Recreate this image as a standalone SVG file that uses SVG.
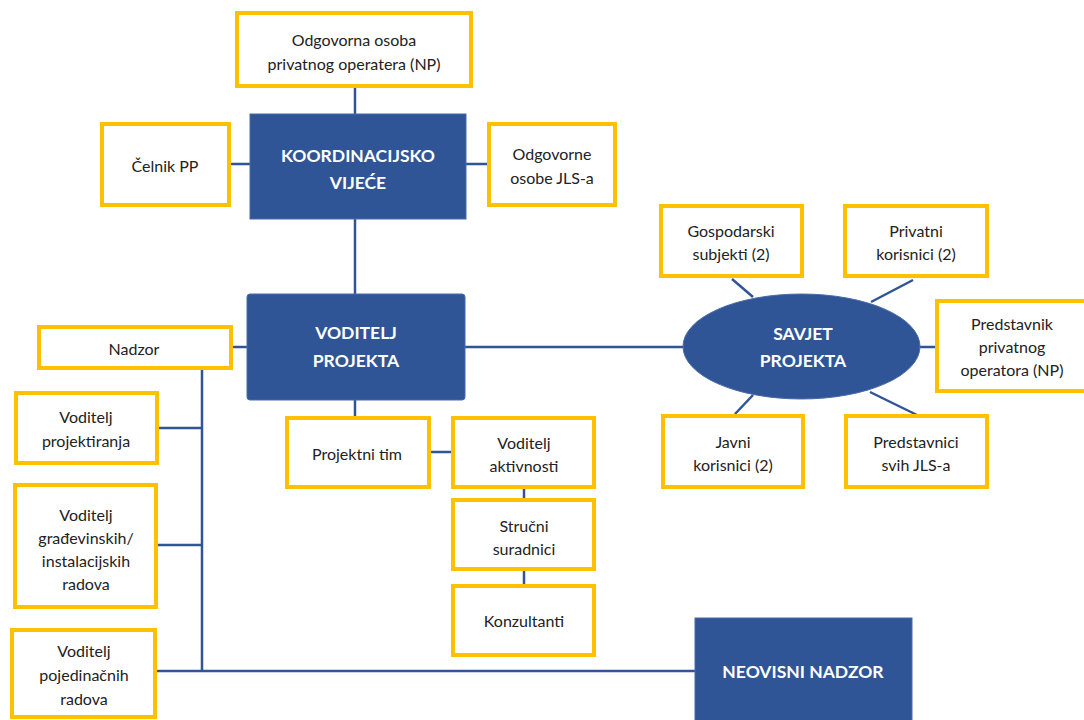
<svg xmlns="http://www.w3.org/2000/svg" width="1084" height="720" viewBox="0 0 1084 720">
<style>
.y{fill:#fff;stroke:#FFC000;stroke-width:4}
.b{fill:#2F5597;stroke:#4A6BA8;stroke-width:1}
.c{stroke:#2F5597;stroke-width:2.5;fill:none}
text{font-family:Lato,"Liberation Sans",sans-serif;text-anchor:middle;dominant-baseline:central}
.t{font-size:16px;fill:#222}
.w{font-size:17.5px;font-weight:bold;fill:#fff}
</style>
<rect width="1084" height="720" fill="#fff"/>
<g id="connectors">
<line class="c" x1="355" y1="87" x2="355" y2="114"/>
<line class="c" x1="229" y1="164" x2="250" y2="164"/>
<line class="c" x1="466" y1="164" x2="488" y2="164"/>
<line class="c" x1="355" y1="219" x2="355" y2="294"/>
<line class="c" x1="231" y1="347" x2="247" y2="347"/>
<line class="c" x1="465" y1="347" x2="683" y2="347"/>
<line class="c" x1="355" y1="400" x2="355" y2="417"/>
<line class="c" x1="430" y1="452" x2="452" y2="452"/>
<line class="c" x1="524" y1="488" x2="524" y2="499"/>
<line class="c" x1="524" y1="570" x2="524" y2="585"/>
<line class="c" x1="202" y1="368" x2="202" y2="671"/>
<line class="c" x1="158" y1="428" x2="202" y2="428"/>
<line class="c" x1="157" y1="545" x2="202" y2="545"/>
<line class="c" x1="156" y1="671" x2="695" y2="671"/>
<line class="c" x1="732" y1="279" x2="753" y2="297"/>
<line class="c" x1="913" y1="280" x2="871" y2="302"/>
<line class="c" x1="920" y1="347" x2="936" y2="347"/>
<line class="c" x1="753" y1="395" x2="735" y2="414"/>
<line class="c" x1="870" y1="392" x2="917" y2="415"/>
</g>
<g id="n-odgovorna-osoba"><rect class="y" x="237" y="13" width="234" height="73"/><text class="t" x="354" y="39">Odgovorna osoba</text><text class="t" x="354" y="63">privatnog operatera (NP)</text></g>
<g id="n-koordinacijsko"><rect class="b" x="250" y="114" width="216" height="105"/><text class="w" x="358" y="155">KOORDINACIJSKO</text><text class="w" x="358" y="182">VIJEĆE</text></g>
<g id="n-celnik"><rect class="y" x="102" y="124" width="127" height="81"/><text class="t" x="165" y="165">Čelnik PP</text></g>
<g id="n-odgovorne-osobe"><rect class="y" x="489" y="124" width="126" height="81"/><text class="t" x="552" y="153">Odgovorne</text><text class="t" x="552" y="177">osobe JLS-a</text></g>
<g id="n-voditelj-projekta"><rect class="b" x="247" y="294" width="218" height="106" rx="3"/><text class="w" x="356" y="332">VODITELJ</text><text class="w" x="356" y="360">PROJEKTA</text></g>
<g id="n-nadzor"><rect class="y" x="39" y="327" width="192" height="41"/><text class="t" x="134" y="348">Nadzor</text></g>
<g id="n-vod-projektiranja"><rect class="y" x="16" y="393" width="141" height="70"/><text class="t" x="86" y="416">Voditelj</text><text class="t" x="86" y="440">projektiranja</text></g>
<g id="n-vod-gradevinskih"><rect class="y" x="15" y="485" width="141" height="122"/><text class="t" x="86" y="514">Voditelj</text><text class="t" x="86" y="537">građevinskih/</text><text class="t" x="86" y="560">instalacijskih</text><text class="t" x="86" y="583">radova</text></g>
<g id="n-vod-pojedinacnih"><rect class="y" x="12" y="630" width="143" height="87"/><text class="t" x="84" y="650">Voditelj</text><text class="t" x="84" y="674">pojedinačnih</text><text class="t" x="84" y="698">radova</text></g>
<g id="n-projektni-tim"><rect class="y" x="287" y="418" width="142" height="69"/><text class="t" x="357" y="453">Projektni tim</text></g>
<g id="n-vod-aktivnosti"><rect class="y" x="453" y="418" width="141" height="69"/><text class="t" x="524" y="442">Voditelj</text><text class="t" x="524" y="465">aktivnosti</text></g>
<g id="n-strucni"><rect class="y" x="453" y="500" width="141" height="69"/><text class="t" x="524" y="525">Stručni</text><text class="t" x="524" y="548">suradnici</text></g>
<g id="n-konzultanti"><rect class="y" x="453" y="586" width="141" height="69"/><text class="t" x="524" y="620">Konzultanti</text></g>
<g id="n-neovisni"><rect class="b" x="695" y="618" width="217" height="106"/><text class="w" x="803" y="671">NEOVISNI NADZOR</text></g>
<g id="n-savjet"><ellipse class="b" cx="801.5" cy="346.5" rx="118.5" ry="52.5"/><text class="w" x="803" y="333">SAVJET</text><text class="w" x="803" y="360">PROJEKTA</text></g>
<g id="n-gospodarski"><rect class="y" x="661" y="206" width="141" height="70"/><text class="t" x="731" y="230">Gospodarski</text><text class="t" x="731" y="253">subjekti (2)</text></g>
<g id="n-privatni"><rect class="y" x="845" y="206" width="142" height="70"/><text class="t" x="916" y="230">Privatni</text><text class="t" x="916" y="253">korisnici (2)</text></g>
<g id="n-predstavnik"><rect class="y" x="937" y="301" width="150" height="90"/><text class="t" x="1012" y="323">Predstavnik</text><text class="t" x="1012" y="346">privatnog</text><text class="t" x="1012" y="369">operatora (NP)</text></g>
<g id="n-javni"><rect class="y" x="663" y="416" width="140" height="71"/><text class="t" x="733" y="441">Javni</text><text class="t" x="733" y="464">korisnici (2)</text></g>
<g id="n-predstavnici"><rect class="y" x="846" y="416" width="141" height="71"/><text class="t" x="916" y="441">Predstavnici</text><text class="t" x="916" y="464">svih JLS-a</text></g>
</svg>
